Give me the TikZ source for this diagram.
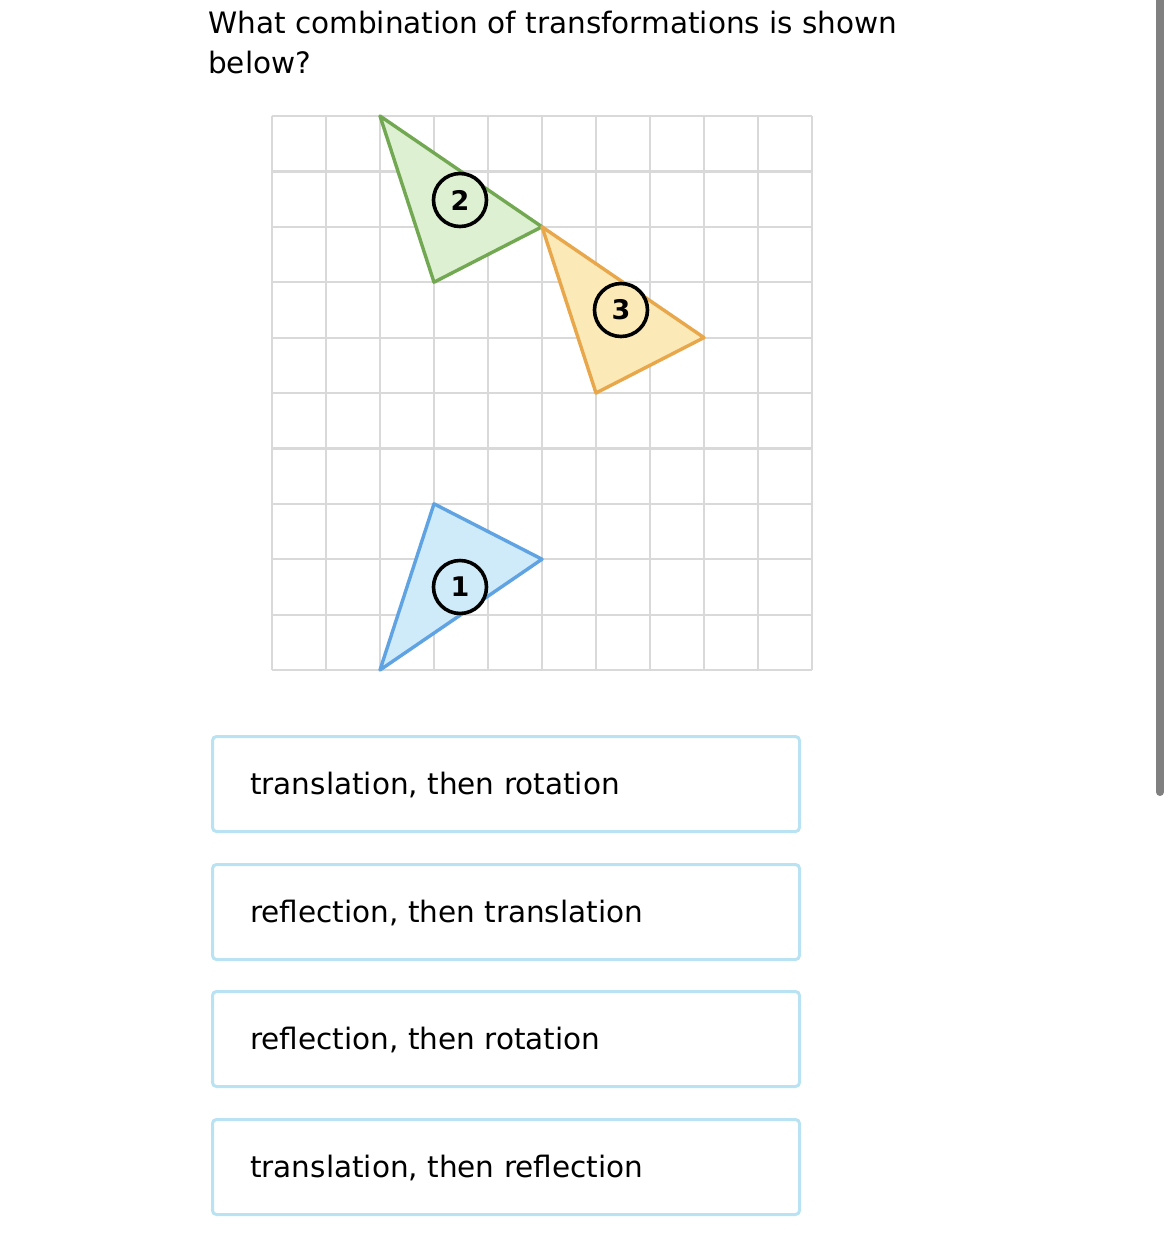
\documentclass[tikz,border=0pt]{standalone}
\usepackage{fontspec}
\setmainfont{DejaVu Sans}
\definecolor{gridc}{HTML}{D9D9D9}
\definecolor{gstroke}{HTML}{72A852}
\definecolor{gfill}{HTML}{DDF0D2}
\definecolor{ostroke}{HTML}{E9A74C}
\definecolor{ofill}{HTML}{FBE9B8}
\definecolor{bstroke}{HTML}{5FA3E3}
\definecolor{bfill}{HTML}{CFEAF9}
\definecolor{btnc}{HTML}{B9E3F3}
\definecolor{scrollc}{HTML}{808080}
\tikzset{
  tri/.style={line width=3.4pt, line join=round},
  lbl/.style={circle, draw=black, line width=3.6pt, minimum size=53pt, inner sep=0pt, font=\fontsize{27}{30}\selectfont\bfseries},
  btn/.style={draw=btnc, line width=3pt, rounded corners=4pt, fill=white, minimum width=587pt, minimum height=95pt, anchor=north west},
  btntext/.style={anchor=base west, inner sep=0pt, font=\fontsize{29.5}{34}\selectfont},
}
\begin{document}
\begin{tikzpicture}[x=1pt,y=-1pt]
\useasboundingbox (0,0) rectangle (1173,1243);
\fill[white] (0,0) rectangle (1173,1243);
% question
\node[anchor=base west, inner sep=0pt, font=\fontsize{29.5}{34}\selectfont] (q1) at (208,33) {What combination of transformations is shown};
\node[anchor=base west, inner sep=0pt, font=\fontsize{29.5}{34}\selectfont] (q2) at (208,73) {below?};
% grid
\begin{scope}[shift={(272,116)}, x=54pt, y=-55.4pt]
  \foreach \i in {0,...,10} {\draw[gridc, line width=2.2pt] (\i,0) -- (\i,10);}
  \foreach \j in {0,...,10} {\draw[gridc, line width=2.2pt] (0,\j) -- (10,\j);}
  % triangle 2
  \coordinate (g1) at (2,0); \coordinate (g2) at (5,2); \coordinate (g3) at (3,3);
  \filldraw[tri, draw=gstroke, fill=gfill] (g1) -- (g2) -- (g3) -- cycle;
  % triangle 3
  \coordinate (o1) at (5,2); \coordinate (o2) at (8,4); \coordinate (o3) at (6,5);
  \filldraw[tri, draw=ostroke, fill=ofill] (o1) -- (o2) -- (o3) -- cycle;
  % triangle 1
  \coordinate (b1) at (3,7); \coordinate (b2) at (5,8); \coordinate (b3) at (2,10);
  \filldraw[tri, draw=bstroke, fill=bfill] (b1) -- (b2) -- (b3) -- cycle;
\end{scope}
\node[lbl, fill=gfill] (l2) at (460,200) {2};
\node[lbl, fill=ofill] (l3) at (621,310) {3};
\node[lbl, fill=bfill] (l1) at (460,587) {1};
% answer buttons
\node[btn] (a1) at (211,735) {};
\node[btntext] (t1) at (250,794) {translation, then rotation};
\node[btn] (a2) at (211,863) {};
\node[btntext] (t2) at (250,922) {reflection, then translation};
\node[btn] (a3) at (211,990) {};
\node[btntext] (t3) at (250,1049) {reflection, then rotation};
\node[btn] (a4) at (211,1118) {};
\node[btntext] (t4) at (250,1177) {translation, then reflection};
% scrollbar
\draw[scrollc, line width=8pt, line cap=round] (1160,-10) -- (1160,792);
\end{tikzpicture}
\end{document}
